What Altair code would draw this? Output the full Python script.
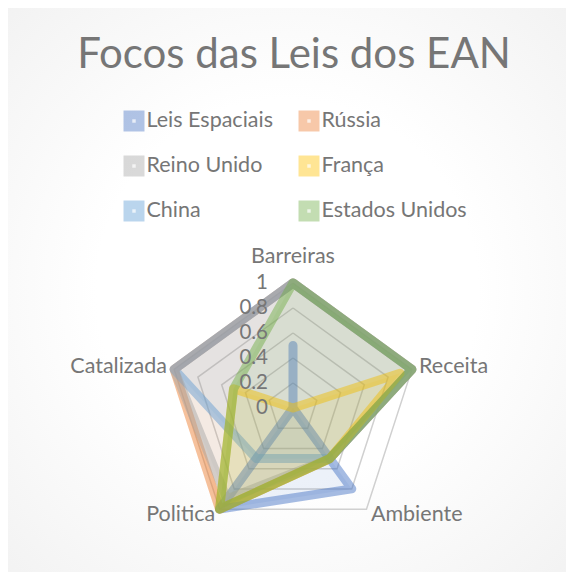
import altair as alt
import pandas as pd

title_text = "Focos das Leis dos EAN"
categories = ["Barreiras", "Receita", "Ambiente", "Politica", "Catalizada"]
series_names = ["Leis Espaciais", "Rússia", "Reino Unido", "França", "China", "Estados Unidos"]
leis_espaciais = [0.5, 0, 0.8, 1, 0]
russia = [1, 1, 0.5, 1, 1]
reino_unido = [1, 1, 0.5, 0.9, 1]
franca = [0, 0.9, 0.5, 1, 0.5]
china = [1, 1, 0.5, 0.5, 1]
estados_unidos = [1, 1, 0.5, 1, 0.5]
series_values = [leis_espaciais, russia, reino_unido, franca, china, estados_unidos]
tick_values = [0, 0.2, 0.4, 0.6, 0.8, 1]
tick_labels = ["0", "0.2", "0.4", "0.6", "0.8", "1"]
colors = ["#4472C4", "#ED7D31", "#A5A5A5", "#FFC000", "#5B9BD5", "#70AD47"]
draw_order = ["Rússia", "Leis Espaciais", "China", "Reino Unido", "França", "Estados Unidos"]

FONT = "Lato"
TXT = "#767676"
W, H = 558, 564

n = len(categories)
rows = []
for s, vals in zip(series_names, series_values):
    for i in range(n + 1):
        rows.append({"series": s, "idx": i, "category": categories[i % n], "value": vals[i % n]})
df = pd.DataFrame(rows)

grid_rows = []
for lv in tick_values[1:]:
    for i in range(n + 1):
        grid_rows.append({"level": lv, "idx": i, "value": lv})
grid_df = pd.DataFrame(grid_rows)

cat_df = pd.DataFrame({"category": categories, "idx": list(range(n))})
tick_df = pd.DataFrame({"value": tick_values, "label": tick_labels})
leg_df = pd.DataFrame({"series": series_names, "i": list(range(len(series_names))), "color": colors})

x_scale = alt.Scale(domain=[-2.28, 2.184], nice=False, zero=False)
y_scale = alt.Scale(domain=[-1.312, 3.2], nice=False, zero=False)


def polar(ch, rexpr="datum.value"):
    return (ch.transform_calculate(ang="PI/2 - datum.idx * 2 * PI / 5")
              .transform_calculate(rr=rexpr)
              .transform_calculate(px="datum.rr * cos(datum.ang)")
              .transform_calculate(py="datum.rr * sin(datum.ang)"))


X = alt.X("px:Q", scale=x_scale, axis=None)
Y = alt.Y("py:Q", scale=y_scale, axis=None)

bg = alt.Chart(pd.DataFrame({"a": [0]})).mark_rect(
    fill=alt.RadialGradient(
        gradient="radial",
        stops=[alt.GradientStop(color="#ffffff", offset=0),
               alt.GradientStop(color="#ffffff", offset=0.45),
               alt.GradientStop(color="#f1f1f1", offset=1)],
        x1=0.5, y1=0.5, r1=0, x2=0.5, y2=0.5, r2=0.75),
).encode(x=alt.value(0), x2=alt.value(W), y=alt.value(0), y2=alt.value(H))

grid = polar(alt.Chart(grid_df)).mark_line(
    stroke="#d0d0d0", strokeWidth=1.5
).encode(x=X, y=Y, detail="level:N", order=alt.Order("idx:Q"))

series_layers = []
for s in draw_order:
    c = colors[series_names.index(s)]
    series_layers.append(
        polar(alt.Chart(df).transform_filter(alt.datum.series == s)).mark_line(
            stroke=c, fill=c, strokeWidth=9, strokeOpacity=0.48, fillOpacity=0.1,
            strokeJoin="round", strokeCap="round"
        ).encode(x=X, y=Y, order=alt.Order("idx:Q"))
    )

ticks = alt.Chart(tick_df).transform_calculate(px="-0.2").transform_calculate(py="datum.value").mark_text(
    align="right", baseline="middle", font=FONT, fontSize=20.5, color=TXT
).encode(x=X, y=Y, text="label:N")

def cat_layer(sel, align, r):
    return polar(alt.Chart(cat_df).transform_filter(sel), rexpr=str(r)).mark_text(
        align=align, baseline="middle", font=FONT, fontSize=21.5, color=TXT
    ).encode(x=X, y=Y, text="category:N")

cat_center = cat_layer("datum.idx == 0", "center", 1.205)
cat_left = cat_layer("datum.idx == 1 || datum.idx == 2", "left", 1.06)
cat_right = cat_layer("datum.idx == 3 || datum.idx == 4", "right", 1.06)

leg_base = alt.Chart(leg_df).transform_calculate(
    col="datum.i % 2", row="floor(datum.i / 2)"
).transform_calculate(
    px="datum.col == 0 ? -1.272 : 0.128", py="2.296 - datum.row * 0.36"
)
leg_sq = leg_base.mark_square(size=440, opacity=0.42).encode(
    x=X, y=Y, fill=alt.Fill("color:N", scale=None)
)
leg_dot = leg_base.mark_square(size=12, opacity=0.7, color="#ffffff").encode(x=X, y=Y)
leg_txt = leg_base.transform_calculate(px2="datum.px + 0.1").mark_text(
    align="left", baseline="middle", font=FONT, fontSize=21.5, color=TXT
).encode(x=alt.X("px2:Q", scale=x_scale, axis=None), y=Y, text="series:N")

title = alt.Chart(pd.DataFrame({"t": [title_text]})).mark_text(
    align="center", baseline="middle", font=FONT, fontSize=42, color=TXT
).encode(x=alt.value(286), y=alt.value(47), text="t:N")

chart = alt.layer(
    bg, grid, *series_layers, ticks, cat_center, cat_left, cat_right,
    leg_sq, leg_dot, leg_txt, title
).properties(
    width=W, height=H, padding=0, autosize=alt.AutoSizeParams(type="none")
).configure_view(stroke="#d9d9d9", strokeWidth=1.2)

chart.save("out.html", embed_options={"renderer": "svg", "actions": False})
